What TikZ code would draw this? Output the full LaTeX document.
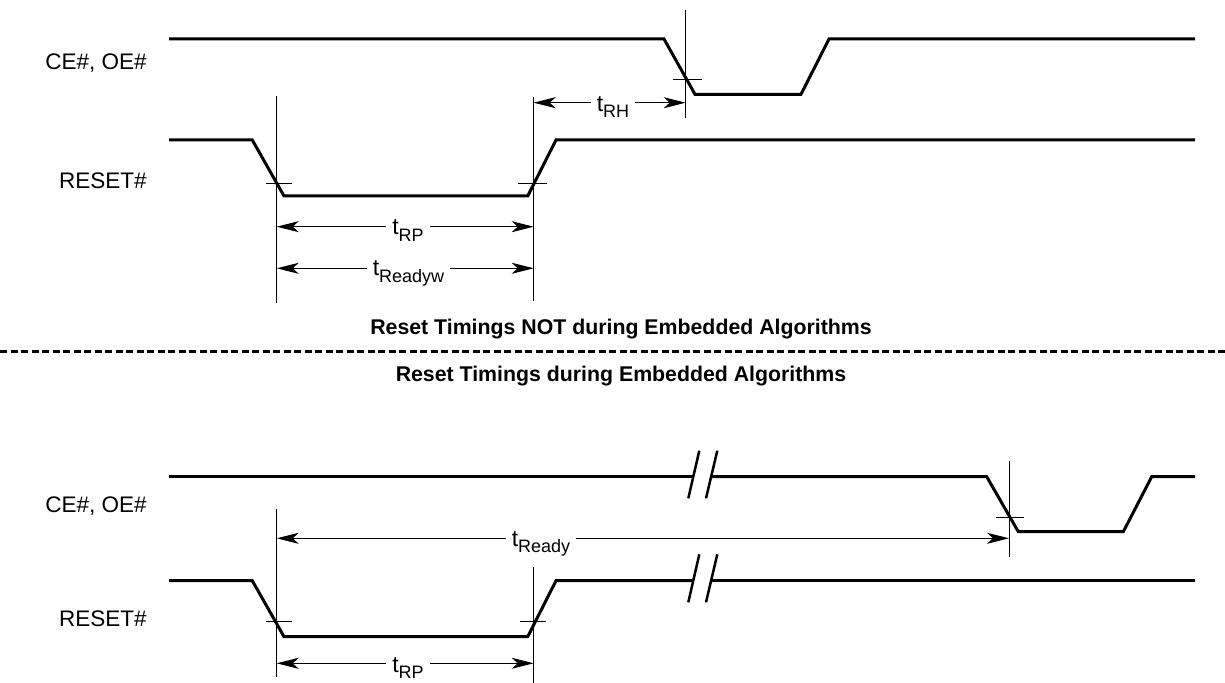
\documentclass[tikz,border=0pt]{standalone}
\usepackage{fontspec}
\setmainfont{Liberation Sans}
\usetikzlibrary{arrows.meta}
\newcommand{\tsub}[1]{{\fontsize{11.5}{13}\selectfont t\raisebox{-3.2pt}{\fontsize{9}{10}\selectfont #1}}}
\begin{document}
\begin{tikzpicture}[x=0.5pt,y=-0.5pt,
  sig/.style={line width=1.5pt, line join=miter},
  thinline/.style={line width=0.5pt},
  dim/.style={line width=0.5pt, {Stealth[length=11pt,width=5.5pt,inset=3pt]}-{Stealth[length=11pt,width=5.5pt,inset=3pt]}},
  tlab/.style={fill=white, inner xsep=3pt, inner ysep=1pt, anchor=base},
  signame/.style={anchor=base east, font=\fontsize{11.25}{13}\selectfont, inner sep=0pt},
  titletext/.style={anchor=base, font=\bfseries\fontsize{10.65}{13}\selectfont, inner sep=0pt},
  brk/.style={line width=1.25pt},
  sepline/.style={line width=1.2pt, dash pattern=on 3.5pt off 1.75pt}]
\path[use as bounding box] (0,0) rectangle (1225,683);

% ---------------- top section ----------------
\node[signame] (ce1) at (147,69.3) {CE\#, OE\#};
\node[signame] (rs1) at (147,188.3) {RESET\#};

\draw[sig] (169,39) -- (664,39) -- (695,94.3) -- (801,94.3) -- (829,39) -- (1195,39);
\draw[sig] (169,140) -- (252.3,140) -- (284,196) -- (527.7,196) -- (556,140) -- (1195,140);

% crossing ticks
\draw[thinline] (672.7,79.3) -- (701.7,79.3);
\draw[thinline] (266,183.3) -- (292,183.3);
\draw[thinline] (518,183.3) -- (547,183.3);

% vertical reference lines
\coordinate (v1t) at (276.7,96);  \coordinate (v1b) at (276.7,303);
\coordinate (v2t) at (533.7,97);  \coordinate (v2b) at (533.7,301);
\coordinate (v3t) at (685.7,10);  \coordinate (v3b) at (685.7,118);
\draw[thinline] (v1t) -- (v1b);
\draw[thinline] (v2t) -- (v2b);
\draw[thinline] (v3t) -- (v3b);

% dimension arrows
\coordinate (rpL) at (276.7,226.7); \coordinate (rpR) at (533.7,226.7);
\coordinate (rwL) at (276.7,268.3); \coordinate (rwR) at (533.7,268.3);
\coordinate (rhL) at (533.7,102.7); \coordinate (rhR) at (685.7,102.7);
\draw[dim] (rpL) -- (rpR);
\draw[dim] (rwL) -- (rwR);
\draw[dim] (rhL) -- (rhR);
\node[tlab] (lrp1) at (408,235) {\tsub{RP}};
\node[tlab] (lrw) at (408.5,276) {\tsub{Readyw}};
\node[tlab] (lrh) at (613,111.5) {\tsub{RH}};

% ---------------- separator ----------------
\node[titletext] (tt1) at (621,334.3) {Reset Timings NOT during Embedded Algorithms};
\draw[sepline] (0,351.7) -- (1225,351.7);
\node[titletext] (tt2) at (621,381.7) {Reset Timings during Embedded Algorithms};

% ---------------- bottom section ----------------
\node[signame] (ce2) at (147,513) {CE\#, OE\#};
\node[signame] (rs2) at (147,626) {RESET\#};

\draw[sig] (169,476.7) -- (693.8,476.7);
\draw[sig] (711.7,476.7) -- (986.7,476.7) -- (1018.3,531.7) -- (1123.3,531.7) -- (1151.7,476.7) -- (1195,476.7);
\draw[sig] (169,580.7) -- (252.3,580.7) -- (284,636.7) -- (527.7,636.7) -- (556,580.7) -- (693.8,580.7);
\draw[sig] (711.7,580.7) -- (1195,580.7);

% break marks
\draw[brk] (688.3,498.3) -- (699.3,450.7);
\draw[brk] (706,498.3) -- (717.3,450.7);
\draw[brk] (688.3,602.3) -- (699.3,554.3);
\draw[brk] (706,602.3) -- (717.3,554.3);

% crossing ticks
\draw[thinline] (995.7,517.3) -- (1024.3,517.3);
\draw[thinline] (266,621.7) -- (292,621.7);
\draw[thinline] (520,621.7) -- (545.7,621.7);

% vertical reference lines
\coordinate (w1t) at (276.7,509);  \coordinate (w1b) at (276.7,676.7);
\coordinate (w2t) at (533.7,566.7);  \coordinate (w2b) at (533.7,683);
\coordinate (w3t) at (1009,461);  \coordinate (w3b) at (1009,556.7);
\draw[thinline] (w1t) -- (w1b);
\draw[thinline] (w2t) -- (w2b);
\draw[thinline] (w3t) -- (w3b);

% dimension arrows
\coordinate (ryL) at (276.7,538.3); \coordinate (ryR) at (1009,538.3);
\coordinate (rp2L) at (276.7,663.3); \coordinate (rp2R) at (533.7,663.3);
\draw[dim] (ryL) -- (ryR);
\draw[dim] (rp2L) -- (rp2R);
\node[tlab] (lry) at (541,546.5) {\tsub{Ready}};
\node[tlab] (lrp2) at (408,672) {\tsub{RP}};
\end{tikzpicture}
\end{document}
